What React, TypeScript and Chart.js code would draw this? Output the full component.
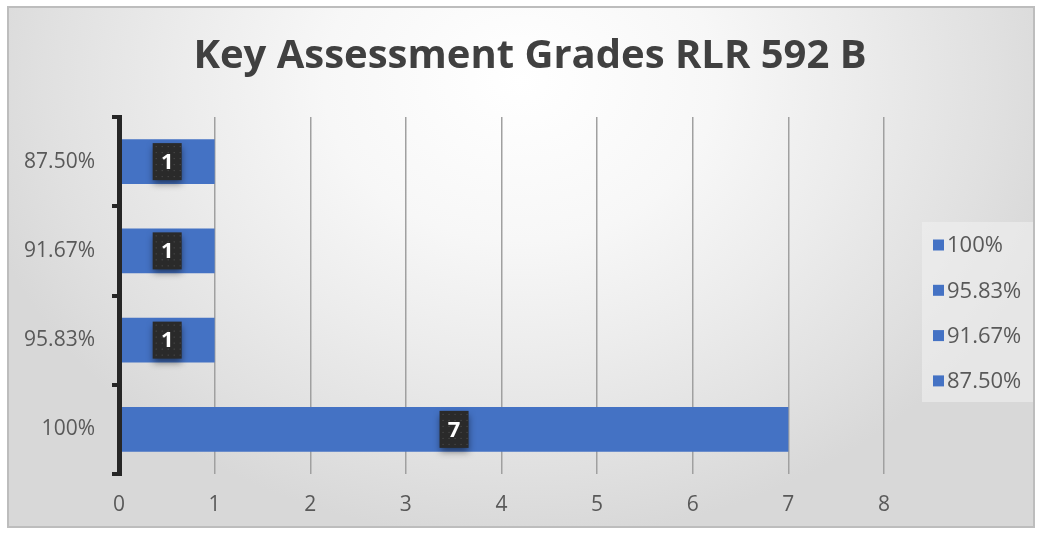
import React, { useEffect, useRef } from "react";
import { Chart, registerables } from "chart.js";

Chart.register(...registerables);

const categories = ["87.50%", "91.67%", "95.83%", "100%"];
const counts = [1, 1, 1, 7];
const legendLabels = ["100%", "95.83%", "91.67%", "87.50%"];
const titleText = "Key Assessment Grades RLR 592 B";
const xMin = 0;
const xMax = 8;
const xStep = 1;

const FONT = "'Open Sans', 'DejaVu Sans', sans-serif";
const BAR = "#4472C4";
const TEXT = "#595959";

const backgroundPlugin = {
  id: "bgFrame",
  beforeDraw(chart: any) {
    const { ctx, width, height } = chart;
    ctx.save();
    ctx.fillStyle = "#ffffff";
    ctx.fillRect(0, 0, width, height);
    const x0 = 8, y0 = 7, x1 = width - 7, y1 = height - 7;
    ctx.beginPath();
    ctx.rect(x0, y0, x1 - x0, y1 - y0);
    ctx.clip();
    ctx.translate(520, 80);
    ctx.scale(1, 460 / 560);
    const g = ctx.createRadialGradient(0, 0, 0, 0, 0, 560);
    g.addColorStop(0, "#ffffff");
    g.addColorStop(0.35, "#f7f7f7");
    g.addColorStop(0.6, "#ececec");
    g.addColorStop(0.85, "#e0e0e0");
    g.addColorStop(1, "#d8d8d8");
    ctx.fillStyle = g;
    ctx.fillRect(-700, -300, 1400, 1200);
    ctx.restore();
    ctx.save();
    ctx.strokeStyle = "#bdbdbd";
    ctx.lineWidth = 2;
    ctx.strokeRect(x0, y0, x1 - x0, y1 - y0);
    ctx.restore();
  },
};

const dataLabelPlugin = {
  id: "darkLabels",
  afterDatasetsDraw(chart: any) {
    const { ctx } = chart;
    const meta = chart.getDatasetMeta(0);
    const values = chart.data.datasets[0].data as number[];
    meta.data.forEach((el: any, i: number) => {
      const cx = (el.x + el.base) / 2;
      const cy = el.y;
      const w = 29, h = 37;
      ctx.save();
      ctx.shadowColor = "rgba(0,0,0,0.5)";
      ctx.shadowBlur = 7;
      ctx.shadowOffsetY = 4;
      ctx.fillStyle = "#2a2a2a";
      ctx.fillRect(cx - w / 2, cy - h / 2, w, h);
      ctx.restore();
      ctx.save();
      ctx.fillStyle = "rgba(120,120,120,0.55)";
      for (let yy = cy - h / 2 + 3; yy < cy + h / 2 - 1; yy += 6) {
        for (let xx = cx - w / 2 + 3; xx < cx + w / 2 - 1; xx += 6) {
          ctx.fillRect(xx, yy, 1, 1);
        }
      }
      ctx.fillStyle = "#ffffff";
      ctx.font = `bold 22px ${FONT}`;
      ctx.textAlign = "center";
      ctx.textBaseline = "middle";
      ctx.fillText(String(values[i]), cx, cy + 1);
      ctx.restore();
    });
  },
};

const legendPlugin = {
  id: "sideLegend",
  afterDraw(chart: any) {
    const { ctx } = chart;
    ctx.save();
    ctx.fillStyle = "rgba(240,240,240,0.6)";
    ctx.fillRect(922, 222, 111, 180);
    ctx.font = `22px ${FONT}`;
    ctx.textBaseline = "middle";
    ctx.textAlign = "left";
    legendLabels.forEach((lab, i) => {
      const y = 245 + i * 45.3;
      ctx.fillStyle = BAR;
      ctx.fillRect(933, y - 5.5, 11, 11);
      ctx.fillStyle = TEXT;
      ctx.fillText(lab, 947, y + 1);
    });
    ctx.restore();
  },
};

export default function App() {
  const ref = useRef<HTMLCanvasElement | null>(null);
  useEffect(() => {
    document.body.style.margin = "0";
    const canvas = ref.current;
    if (!canvas) return;
    const chart = new Chart(canvas, {
      type: "bar",
      data: {
        labels: categories,
        datasets: [
          {
            label: "Count",
            data: counts,
            backgroundColor: BAR,
            borderWidth: 0,
            categoryPercentage: 1,
            barPercentage: 0.5,
          },
        ],
      },
      options: {
        indexAxis: "y",
        responsive: false,
        animation: false,
        devicePixelRatio: 1,
        layout: { padding: { left: 19, right: 0, top: 0, bottom: 0 } },
        plugins: {
          legend: { display: false },
          tooltip: { enabled: false },
          title: {
            display: true,
            text: titleText,
            color: "#404040",
            font: { family: FONT, size: 40, weight: "bold" },
            padding: { top: 33, bottom: 36 },
          },
        },
        scales: {
          x: {
            type: "linear",
            min: xMin,
            max: xMax,
            ticks: {
              stepSize: xStep,
              color: TEXT,
              font: { family: FONT, size: 21 },
              padding: 18,
            },
            grid: { color: "#a0a0a0", lineWidth: 1.5, drawTicks: false },
            border: { display: false },
            afterFit(s: any) {
              s.height = 60;
            },
          },
          y: {
            type: "category",
            ticks: {
              color: TEXT,
              font: { family: FONT, size: 21 },
              padding: 17,
            },
            grid: {
              offset: true,
              drawOnChartArea: false,
              drawTicks: true,
              tickLength: 7,
              color: "#262626",
              lineWidth: 4,
            },
            border: { display: true, color: "#262626", width: 5, z: 1 },
            afterFit(s: any) {
              s.width = 100;
            },
          },
          spacer: {
            type: "category",
            position: "right",
            display: true,
            ticks: { display: false },
            grid: { display: false },
            border: { display: false },
            afterFit(s: any) {
              s.width = 157;
            },
          },
        },
      } as any,
      plugins: [backgroundPlugin, dataLabelPlugin, legendPlugin],
    });
    return () => chart.destroy();
  }, []);
  return (
    <div style={{ position: "fixed", left: 0, top: 0, width: 1041, height: 534 }}>
      <canvas ref={ref} width={1041} height={534} />
    </div>
  );
}
